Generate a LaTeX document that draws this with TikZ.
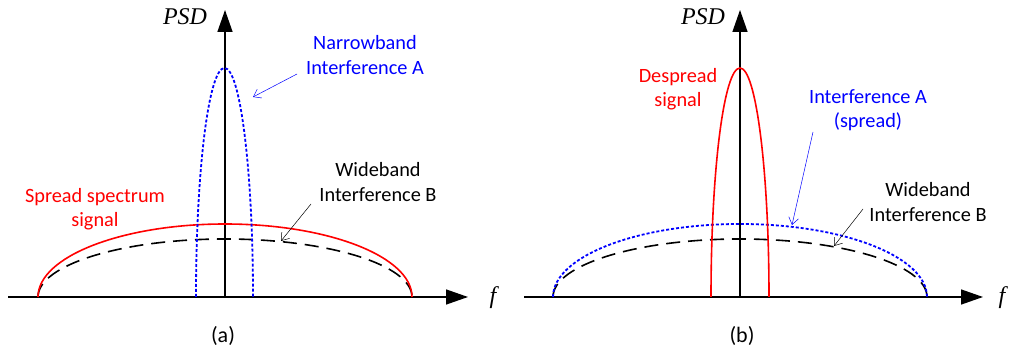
\documentclass[tikz,border=0pt]{standalone}
\usepackage{fontspec}
\setmainfont{Carlito}
\newfontfamily\tmsfont{Liberation Serif}
\usetikzlibrary{arrows.meta}

\begin{document}
\begin{tikzpicture}[x=1pt, y=1pt,
  ax/.style={line width=1.4pt, -{Triangle[length=22pt, width=15pt]}},
  sig/.style={red, line width=1.6pt},
  nbi/.style={blue, line width=1.8pt, dash pattern=on 3pt off 2pt},
  wbi/.style={black, line width=1.6pt, dash pattern=on 14pt off 8pt},
  lbl/.style={font=\fontsize{20.3}{24.5}\selectfont, align=center, inner sep=0pt},
  sub/.style={font=\fontsize{22}{26}\selectfont, inner sep=0pt},
  axl/.style={font=\fontsize{24}{28}\selectfont\tmsfont\itshape, inner sep=0pt},
  ptr/.style={line width=0.5pt, -{Straight Barb[length=7pt, width=10pt]}}]

\useasboundingbox (0,0) rectangle (1009,355);

% --- (a): axes ---
\coordinate (xa0) at (8,58);
\coordinate (xa1) at (468,58);
\coordinate (ya0) at (225,58);
\coordinate (ya1) at (225,345);
\draw[ax] (xa0) -- (xa1);
\draw[ax] (ya0) -- (ya1);
\node[axl] (psda) at (185,338) {PSD};
\node[axl] (fa) at (493,57) {f};

% --- (a): spectra ---
\draw[wbi] (38,58) arc[start angle=180, end angle=0, x radius=187, y radius=58];
\draw[sig] (38,58) arc[start angle=180, end angle=0, x radius=187, y radius=73];
\draw[nbi] (196,58) arc[start angle=180, end angle=0, x radius=28.5, y radius=229];

% --- (a): labels ---
\node[lbl, red] (ssa) at (95,146) {Spread spectrum\\signal};
\node[lbl, blue] (nba) at (365,300) {Narrowband\\Interference A};
\node[lbl] (wba) at (378,173) {Wideband\\Interference B};
\coordinate (nbs) at (297,281);
\coordinate (nbe) at (253,258);
\coordinate (wbs) at (311,151);
\coordinate (wbe) at (281,114);
\draw[ptr, blue] (nbs) -- (nbe);
\draw[ptr] (wbs) -- (wbe);
\node[sub] (capa) at (223,19) {(a)};

% --- (b): axes ---
\coordinate (xb0) at (524,58);
\coordinate (xb1) at (983,58);
\coordinate (yb0) at (740,58);
\coordinate (yb1) at (740,345);
\draw[ax] (xb0) -- (xb1);
\draw[ax] (yb0) -- (yb1);
\node[axl] (psdb) at (703,338) {PSD};
\node[axl] (fb) at (1002,57) {f};

% --- (b): spectra ---
\draw[wbi] (553,58) arc[start angle=180, end angle=0, x radius=187, y radius=58];
\draw[nbi] (553,58) arc[start angle=180, end angle=0, x radius=187, y radius=73];
\draw[sig] (711,58) arc[start angle=180, end angle=0, x radius=29, y radius=229];

% --- (b): labels ---
\node[lbl, red] (dsb) at (678,266) {Despread\\signal};
\node[lbl, blue] (iab) at (868,245) {Interference A\\(spread)};
\node[lbl] (wbb) at (928,153) {Wideband\\Interference B};
\coordinate (ias) at (813,223);
\coordinate (iae) at (792,130);
\coordinate (wbbs) at (863,146);
\coordinate (wbbe) at (834,109);
\draw[ptr, blue] (ias) -- (iae);
\draw[ptr] (wbbs) -- (wbbe);
\node[sub] (capb) at (742,19) {(b)};

\end{tikzpicture}
\end{document}
